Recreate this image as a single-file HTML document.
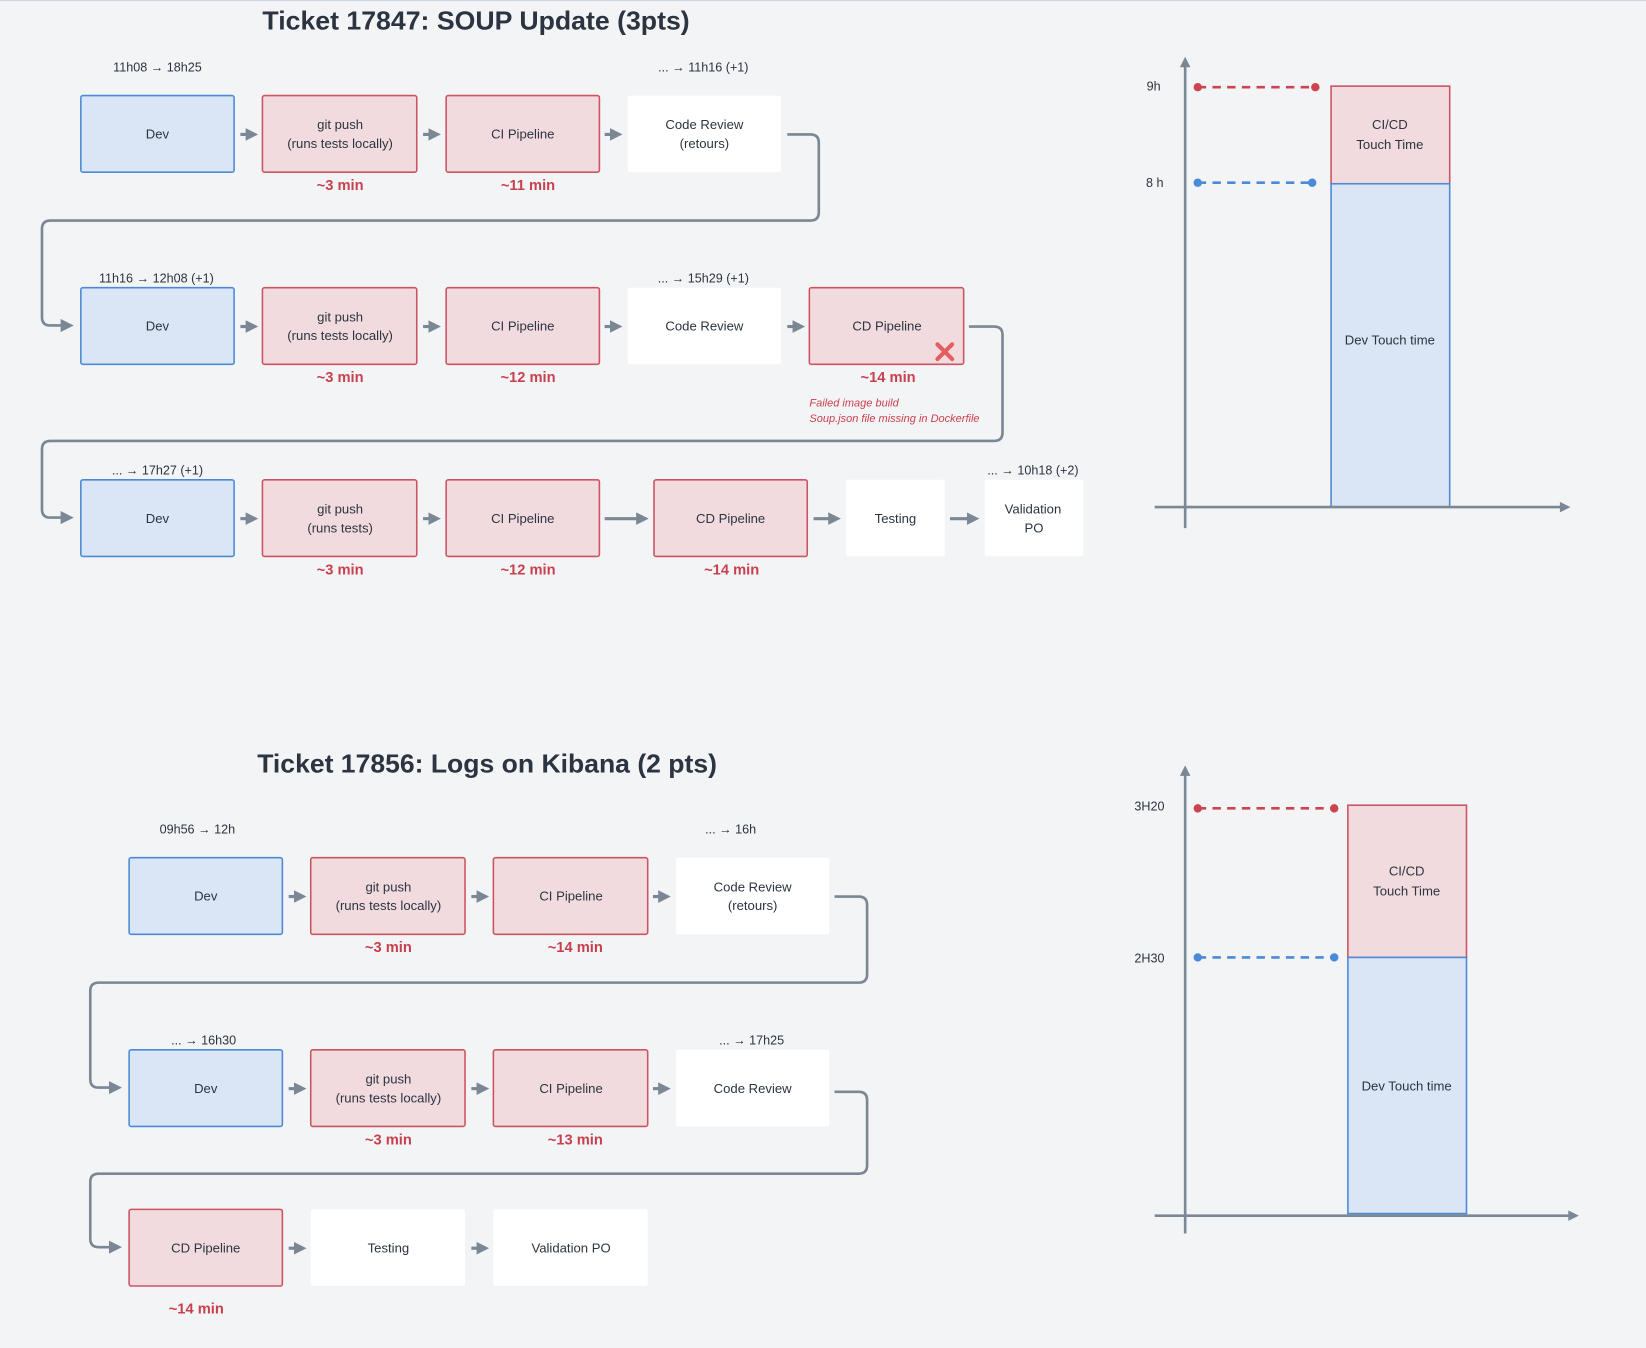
<!DOCTYPE html>
<html><head><meta charset="utf-8"><style>
html,body{margin:0;padding:0;background:#f3f4f6;}
svg{display:block;}
text{font-family:"Liberation Sans",sans-serif;}
.bx{font-size:12.5px;fill:#2b3440;text-anchor:middle;}
.lb{font-size:12px;fill:#2b3440;text-anchor:middle;}
.mn{font-size:14px;fill:#c9404d;font-weight:bold;text-anchor:middle;}
.tt{font-size:25px;font-weight:bold;fill:#2b3440;}
.b{fill:#dae6f5;stroke:#4a8ad6;stroke-width:1.5;}
.r{fill:#f2dbde;stroke:#cc5461;stroke-width:1.5;}
.w{fill:#ffffff;stroke:none;}
.ar{stroke:#7b8794;stroke-width:3;fill:none;}
.cn{stroke:#7b8794;stroke-width:2.5;fill:none;}
</style></head><body>
<svg width="1646" height="1348" viewBox="0 0 1568 1284" xmlns="http://www.w3.org/2000/svg">
<defs>
<marker id="ah" markerWidth="4" markerHeight="4" refX="2" refY="2" orient="auto" markerUnits="strokeWidth"><path d="M0,0 L4,2 L0,4z" fill="#7b8794"/></marker>
<marker id="ah2" markerWidth="5" markerHeight="5" refX="2.5" refY="2.5" orient="auto" markerUnits="strokeWidth"><path d="M0,0 L5,2.5 L0,5z" fill="#7b8794"/></marker>
</defs>
<rect width="1568" height="1284" fill="#f3f4f6"/>
<line x1="0" y1="0.5" x2="1568" y2="0.5" stroke="#c9d3e0"/>

<text class="tt" x="250" y="28" textLength="407" lengthAdjust="spacingAndGlyphs">Ticket 17847: SOUP Update (3pts)</text>

<!-- Row 1 -->
<text class="lb" x="150" y="68">11h08 → 18h25</text>
<text class="lb" x="670" y="68">... → 11h16 (+1)</text>
<rect class="b" x="77" y="91" width="146" height="73" rx="2"/><text class="bx" x="150" y="132">Dev</text>
<rect class="r" x="250" y="91" width="147" height="73" rx="2"/><text class="bx" x="324" y="123">git push</text><text class="bx" x="324" y="141">(runs tests locally)</text>
<rect class="r" x="425" y="91" width="146" height="73" rx="2"/><text class="bx" x="498" y="132">CI Pipeline</text>
<rect class="w" x="598" y="91" width="146" height="73" rx="2"/><text class="bx" x="671" y="123">Code Review</text><text class="bx" x="671" y="141">(retours)</text>
<text class="mn" x="324" y="181">~3 min</text><text class="mn" x="503" y="181">~11 min</text>
<line class="ar" x1="229" y1="128" x2="240" y2="128" marker-end="url(#ah)"/>
<line class="ar" x1="403" y1="128" x2="414" y2="128" marker-end="url(#ah)"/>
<line class="ar" x1="576" y1="128" x2="587" y2="128" marker-end="url(#ah)"/>
<path class="cn" d="M750,128 H772 Q780,128 780,136 V202 Q780,210 772,210 H48 Q40,210 40,218 V302 Q40,310 48,310 H64" marker-end="url(#ah2)"/>

<!-- Row 2 -->
<text class="lb" x="149" y="269">11h16 → 12h08 (+1)</text>
<text class="lb" x="670" y="269">... → 15h29 (+1)</text>
<rect class="b" x="77" y="274" width="146" height="73" rx="2"/><text class="bx" x="150" y="315">Dev</text>
<rect class="r" x="250" y="274" width="147" height="73" rx="2"/><text class="bx" x="324" y="306">git push</text><text class="bx" x="324" y="324">(runs tests locally)</text>
<rect class="r" x="425" y="274" width="146" height="73" rx="2"/><text class="bx" x="498" y="315">CI Pipeline</text>
<rect class="w" x="598" y="274" width="146" height="73" rx="2"/><text class="bx" x="671" y="315">Code Review</text>
<rect class="r" x="771" y="274" width="147" height="73" rx="2"/><text class="bx" x="845" y="315">CD Pipeline</text>
<path d="M893,328 L907,342 M907,328 L893,342" stroke="#e06060" stroke-width="4" stroke-linecap="round"/>
<text class="mn" x="324" y="364">~3 min</text><text class="mn" x="503" y="364">~12 min</text><text class="mn" x="846" y="364">~14 min</text>
<text x="771" y="387" font-size="10.5" font-style="italic" fill="#c9404d">Failed image build</text>
<text x="771" y="402" font-size="10.5" font-style="italic" fill="#c9404d">Soup.json file missing in Dockerfile</text>
<line class="ar" x1="229" y1="311" x2="240" y2="311" marker-end="url(#ah)"/>
<line class="ar" x1="403" y1="311" x2="414" y2="311" marker-end="url(#ah)"/>
<line class="ar" x1="576" y1="311" x2="587" y2="311" marker-end="url(#ah)"/>
<line class="ar" x1="750" y1="311" x2="761" y2="311" marker-end="url(#ah)"/>
<path class="cn" d="M923,311 H947 Q955,311 955,319 V412 Q955,420 947,420 H48 Q40,420 40,428 V485 Q40,493 48,493 H64" marker-end="url(#ah2)"/>

<!-- Row 3 -->
<text class="lb" x="150" y="452">... → 17h27 (+1)</text>
<text class="lb" x="984" y="452">... → 10h18 (+2)</text>
<rect class="b" x="77" y="457" width="146" height="73" rx="2"/><text class="bx" x="150" y="498">Dev</text>
<rect class="r" x="250" y="457" width="147" height="73" rx="2"/><text class="bx" x="324" y="489">git push</text><text class="bx" x="324" y="507">(runs tests)</text>
<rect class="r" x="425" y="457" width="146" height="73" rx="2"/><text class="bx" x="498" y="498">CI Pipeline</text>
<rect class="r" x="623" y="457" width="146" height="73" rx="2"/><text class="bx" x="696" y="498">CD Pipeline</text>
<rect class="w" x="806" y="457" width="94" height="73" rx="2"/><text class="bx" x="853" y="498">Testing</text>
<rect class="w" x="938" y="457" width="94" height="73" rx="2"/><text class="bx" x="984" y="489">Validation</text><text class="bx" x="985" y="507">PO</text>
<text class="mn" x="324" y="547">~3 min</text><text class="mn" x="503" y="547">~12 min</text><text class="mn" x="697" y="547">~14 min</text>
<line class="ar" x1="229" y1="494" x2="240" y2="494" marker-end="url(#ah)"/>
<line class="ar" x1="403" y1="494" x2="414" y2="494" marker-end="url(#ah)"/>
<line class="ar" x1="576" y1="494" x2="612" y2="494" marker-end="url(#ah)"/>
<line class="ar" x1="775" y1="494" x2="795" y2="494" marker-end="url(#ah)"/>
<line class="ar" x1="905" y1="494" x2="927" y2="494" marker-end="url(#ah)"/>

<!-- Chart 1 -->
<rect x="1268" y="82" width="113" height="93" fill="#f2dbde" stroke="#cc5461" stroke-width="1.5"/>
<rect x="1268" y="175" width="113" height="308" fill="#dae6f5" stroke="#4a8ad6" stroke-width="1.5"/>
<text class="bx" x="1324" y="123">CI/CD</text><text class="bx" x="1324" y="142">Touch Time</text>
<text class="bx" x="1324" y="328">Dev Touch time</text>
<line x1="1129" y1="62" x2="1129" y2="503" stroke="#7b8794" stroke-width="2.5"/>
<path d="M1124,64 L1129,54 L1134,64z" fill="#7b8794"/>
<line x1="1100" y1="483" x2="1488" y2="483" stroke="#7b8794" stroke-width="2.5"/>
<path d="M1486,478 L1496,483 L1486,488z" fill="#7b8794"/>
<text x="1099" y="86" font-size="12" fill="#2b3440" text-anchor="middle">9h</text>
<text x="1100" y="178" font-size="12" fill="#2b3440" text-anchor="middle">8 h</text>
<line x1="1141" y1="83" x2="1253" y2="83" stroke="#cc4452" stroke-width="2.5" stroke-dasharray="8,6"/>
<circle cx="1141" cy="83" r="4" fill="#cc4452"/><circle cx="1253" cy="83" r="4" fill="#cc4452"/>
<line x1="1141" y1="174" x2="1250" y2="174" stroke="#4a8ad6" stroke-width="2.5" stroke-dasharray="8,6"/>
<circle cx="1141" cy="174" r="4" fill="#4a8ad6"/><circle cx="1250" cy="174" r="4" fill="#4a8ad6"/>

<!-- Section 2 -->
<text class="tt" x="245" y="736" textLength="438" lengthAdjust="spacingAndGlyphs">Ticket 17856: Logs on Kibana (2 pts)</text>
<text class="lb" x="188" y="794">09h56 → 12h</text>
<text class="lb" x="696" y="794">... → 16h</text>
<rect class="b" x="123" y="817" width="146" height="73" rx="2"/><text class="bx" x="196" y="858">Dev</text>
<rect class="r" x="296" y="817" width="147" height="73" rx="2"/><text class="bx" x="370" y="849">git push</text><text class="bx" x="370" y="867">(runs tests locally)</text>
<rect class="r" x="470" y="817" width="147" height="73" rx="2"/><text class="bx" x="544" y="858">CI Pipeline</text>
<rect class="w" x="644" y="817" width="146" height="73" rx="2"/><text class="bx" x="717" y="849">Code Review</text><text class="bx" x="717" y="867">(retours)</text>
<text class="mn" x="370" y="907">~3 min</text><text class="mn" x="548" y="907">~14 min</text>
<line class="ar" x1="275" y1="854" x2="286" y2="854" marker-end="url(#ah)"/>
<line class="ar" x1="449" y1="854" x2="460" y2="854" marker-end="url(#ah)"/>
<line class="ar" x1="622" y1="854" x2="633" y2="854" marker-end="url(#ah)"/>
<path class="cn" d="M795,854 H818 Q826,854 826,862 V928 Q826,936 818,936 H94 Q86,936 86,944 V1028 Q86,1036 94,1036 H110" marker-end="url(#ah2)"/>

<text class="lb" x="194" y="995">... → 16h30</text>
<text class="lb" x="716" y="995">... → 17h25</text>
<rect class="b" x="123" y="1000" width="146" height="73" rx="2"/><text class="bx" x="196" y="1041">Dev</text>
<rect class="r" x="296" y="1000" width="147" height="73" rx="2"/><text class="bx" x="370" y="1032">git push</text><text class="bx" x="370" y="1050">(runs tests locally)</text>
<rect class="r" x="470" y="1000" width="147" height="73" rx="2"/><text class="bx" x="544" y="1041">CI Pipeline</text>
<rect class="w" x="644" y="1000" width="146" height="73" rx="2"/><text class="bx" x="717" y="1041">Code Review</text>
<text class="mn" x="370" y="1090">~3 min</text><text class="mn" x="548" y="1090">~13 min</text>
<line class="ar" x1="275" y1="1037" x2="286" y2="1037" marker-end="url(#ah)"/>
<line class="ar" x1="449" y1="1037" x2="460" y2="1037" marker-end="url(#ah)"/>
<line class="ar" x1="622" y1="1037" x2="633" y2="1037" marker-end="url(#ah)"/>
<path class="cn" d="M795,1040 H818 Q826,1040 826,1048 V1110 Q826,1118 818,1118 H94 Q86,1118 86,1126 V1180 Q86,1188 94,1188 H110" marker-end="url(#ah2)"/>

<rect class="r" x="123" y="1152" width="146" height="73" rx="2"/><text class="bx" x="196" y="1193">CD Pipeline</text>
<rect class="w" x="296" y="1152" width="147" height="73" rx="2"/><text class="bx" x="370" y="1193">Testing</text>
<rect class="w" x="470" y="1152" width="147" height="73" rx="2"/><text class="bx" x="544" y="1193">Validation PO</text>
<text class="mn" x="187" y="1251">~14 min</text>
<line class="ar" x1="275" y1="1189" x2="286" y2="1189" marker-end="url(#ah)"/>
<line class="ar" x1="449" y1="1189" x2="460" y2="1189" marker-end="url(#ah)"/>

<!-- Chart 2 -->
<rect x="1284" y="767" width="113" height="145" fill="#f2dbde" stroke="#cc5461" stroke-width="1.5"/>
<rect x="1284" y="912" width="113" height="244" fill="#dae6f5" stroke="#4a8ad6" stroke-width="1.5"/>
<text class="bx" x="1340" y="834">CI/CD</text><text class="bx" x="1340" y="853">Touch Time</text>
<text class="bx" x="1340" y="1039">Dev Touch time</text>
<line x1="1129" y1="737" x2="1129" y2="1175" stroke="#7b8794" stroke-width="2.5"/>
<path d="M1124,739 L1129,729 L1134,739z" fill="#7b8794"/>
<line x1="1100" y1="1158" x2="1496" y2="1158" stroke="#7b8794" stroke-width="2.5"/>
<path d="M1494,1153 L1504,1158 L1494,1163z" fill="#7b8794"/>
<text x="1095" y="772" font-size="12" fill="#2b3440" text-anchor="middle">3H20</text>
<text x="1095" y="917" font-size="12" fill="#2b3440" text-anchor="middle">2H30</text>
<line x1="1141" y1="770" x2="1271" y2="770" stroke="#cc4452" stroke-width="2.5" stroke-dasharray="8,6"/>
<circle cx="1141" cy="770" r="4" fill="#cc4452"/><circle cx="1271" cy="770" r="4" fill="#cc4452"/>
<line x1="1141" y1="912" x2="1271" y2="912" stroke="#4a8ad6" stroke-width="2.5" stroke-dasharray="8,6"/>
<circle cx="1141" cy="912" r="4" fill="#4a8ad6"/><circle cx="1271" cy="912" r="4" fill="#4a8ad6"/>
</svg>
</body></html>
